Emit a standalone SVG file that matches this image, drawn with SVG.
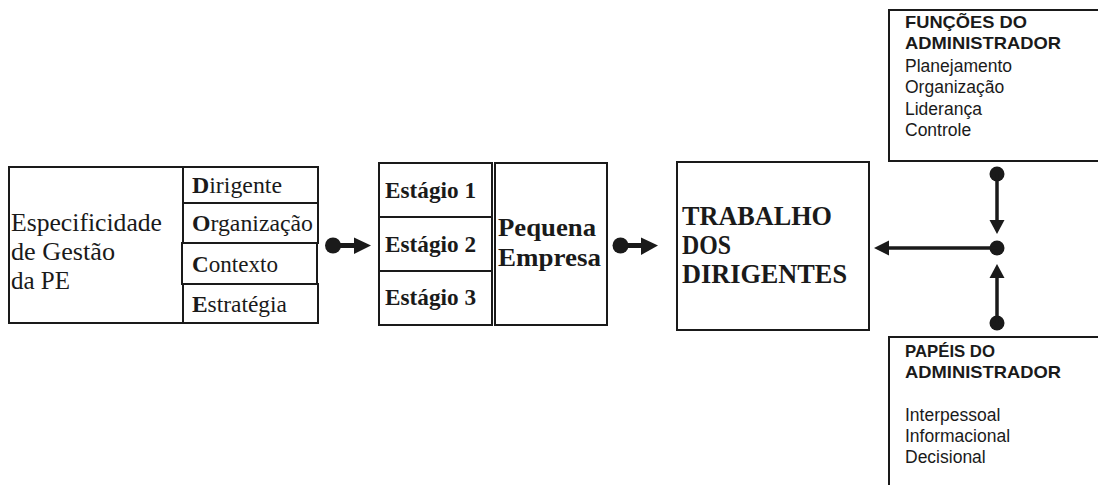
<svg xmlns="http://www.w3.org/2000/svg" width="1098" height="485" viewBox="0 0 1098 485">
<style>
.box{fill:#fff;stroke:#1a1a1a;stroke-width:2}
.serif{font-family:"Liberation Serif","Times New Roman",serif;fill:#1a1a1a}
.sans{font-family:"Liberation Sans",Arial,sans-serif;fill:#1a1a1a}
.b{font-weight:bold}
.ln{stroke:#1a1a1a;fill:none}
.dot{fill:#1a1a1a}
.head{fill:#1a1a1a}
</style>
<rect width="1098" height="485" fill="#fff"/>

<g id="especificidade">
<rect class="box" x="9" y="167" width="174" height="156"/>
<text class="serif" font-size="25.5" x="11" y="231" textLength="151" lengthAdjust="spacingAndGlyphs">Especificidade</text>
<text class="serif" font-size="25.5" x="11" y="260" textLength="104" lengthAdjust="spacingAndGlyphs">de Gestão</text>
<text class="serif" font-size="25.5" x="11" y="289" textLength="59" lengthAdjust="spacingAndGlyphs">da PE</text>
</g>

<g id="dimensoes">
<rect class="box" x="183" y="167" width="135" height="36"/>
<rect class="box" x="183" y="203" width="135" height="40"/>
<rect class="box" x="182" y="243" width="135" height="41"/>
<rect class="box" x="183" y="284" width="135" height="39"/>
<text class="serif" font-size="23" x="192" y="193" textLength="90" lengthAdjust="spacingAndGlyphs"><tspan class="b">D</tspan>irigente</text>
<text class="serif" font-size="23" x="192" y="231" textLength="121" lengthAdjust="spacingAndGlyphs"><tspan class="b">O</tspan>rganização</text>
<text class="serif" font-size="23" x="192" y="272" textLength="86" lengthAdjust="spacingAndGlyphs"><tspan class="b">C</tspan>ontexto</text>
<text class="serif" font-size="23" x="192" y="312" textLength="95" lengthAdjust="spacingAndGlyphs"><tspan class="b">E</tspan>stratégia</text>
</g>

<g id="estagios">
<rect class="box" x="379" y="163" width="113" height="162"/>
<line class="ln" stroke-width="2" x1="379" y1="217" x2="492" y2="217"/>
<line class="ln" stroke-width="2" x1="379" y1="271" x2="492" y2="271"/>
<text class="serif b" font-size="23" x="385" y="198" textLength="91" lengthAdjust="spacingAndGlyphs">Estágio 1</text>
<text class="serif b" font-size="23" x="385" y="252" textLength="91" lengthAdjust="spacingAndGlyphs">Estágio 2</text>
<text class="serif b" font-size="23" x="385" y="305" textLength="91" lengthAdjust="spacingAndGlyphs">Estágio 3</text>
</g>

<g id="pequena-empresa">
<rect class="box" x="495" y="163" width="112" height="162"/>
<text class="serif b" font-size="26" x="498" y="236" textLength="98" lengthAdjust="spacingAndGlyphs">Pequena</text>
<text class="serif b" font-size="26" x="498" y="266" textLength="103" lengthAdjust="spacingAndGlyphs">Empresa</text>
</g>

<g id="trabalho">
<rect class="box" x="677" y="162" width="192" height="168"/>
<text class="serif b" font-size="28" x="682" y="225" textLength="150" lengthAdjust="spacingAndGlyphs">TRABALHO</text>
<text class="serif b" font-size="28" x="682" y="254" textLength="49" lengthAdjust="spacingAndGlyphs">DOS</text>
<text class="serif b" font-size="28" x="682" y="283" textLength="165" lengthAdjust="spacingAndGlyphs">DIRIGENTES</text>
</g>

<g id="funcoes">
<rect class="box" x="889" y="10" width="220" height="151"/>
<text class="sans b" font-size="17" x="905" y="28" textLength="122" lengthAdjust="spacingAndGlyphs">FUNÇÕES DO</text>
<text class="sans b" font-size="17" x="905" y="49" textLength="156" lengthAdjust="spacingAndGlyphs">ADMINISTRADOR</text>
<text class="sans" font-size="17.5" x="905" y="72">Planejamento</text>
<text class="sans" font-size="17.5" x="905" y="93">Organização</text>
<text class="sans" font-size="17.5" x="905" y="115">Liderança</text>
<text class="sans" font-size="17.5" x="905" y="136">Controle</text>
</g>

<g id="papeis">
<rect class="box" x="889" y="337" width="220" height="160"/>
<text class="sans b" font-size="17" x="905" y="357" textLength="90" lengthAdjust="spacingAndGlyphs">PAPÉIS DO</text>
<text class="sans b" font-size="17" x="905" y="378" textLength="156" lengthAdjust="spacingAndGlyphs">ADMINISTRADOR</text>
<text class="sans" font-size="17.5" x="905" y="421">Interpessoal</text>
<text class="sans" font-size="17.5" x="905" y="442">Informacional</text>
<text class="sans" font-size="17.5" x="905" y="463">Decisional</text>
</g>

<g id="connectors">
<circle class="dot" cx="333" cy="245.5" r="8"/>
<line class="ln" stroke-width="5" x1="333" y1="245.5" x2="356" y2="245.5"/>
<polygon class="head" points="354,237.5 371,245.5 354,254"/>

<circle class="dot" cx="620.5" cy="245.5" r="8"/>
<line class="ln" stroke-width="5" x1="620" y1="245.5" x2="643" y2="245.5"/>
<polygon class="head" points="641,237.5 658,245.5 641,255"/>

<circle class="dot" cx="997" cy="174" r="7.5"/>
<line class="ln" stroke-width="3.5" x1="997" y1="174" x2="997" y2="222"/>
<polygon class="head" points="989.5,220 1004.5,220 997,234"/>

<circle class="dot" cx="997" cy="248" r="7.5"/>
<line class="ln" stroke-width="3.5" x1="997" y1="248" x2="887" y2="248"/>
<polygon class="head" points="889,240.5 889,255.5 874,248"/>

<circle class="dot" cx="997" cy="323" r="7.5"/>
<line class="ln" stroke-width="3.5" x1="997" y1="323" x2="997" y2="276"/>
<polygon class="head" points="989.5,278 1004.5,278 997,264"/>
</g>
</svg>
